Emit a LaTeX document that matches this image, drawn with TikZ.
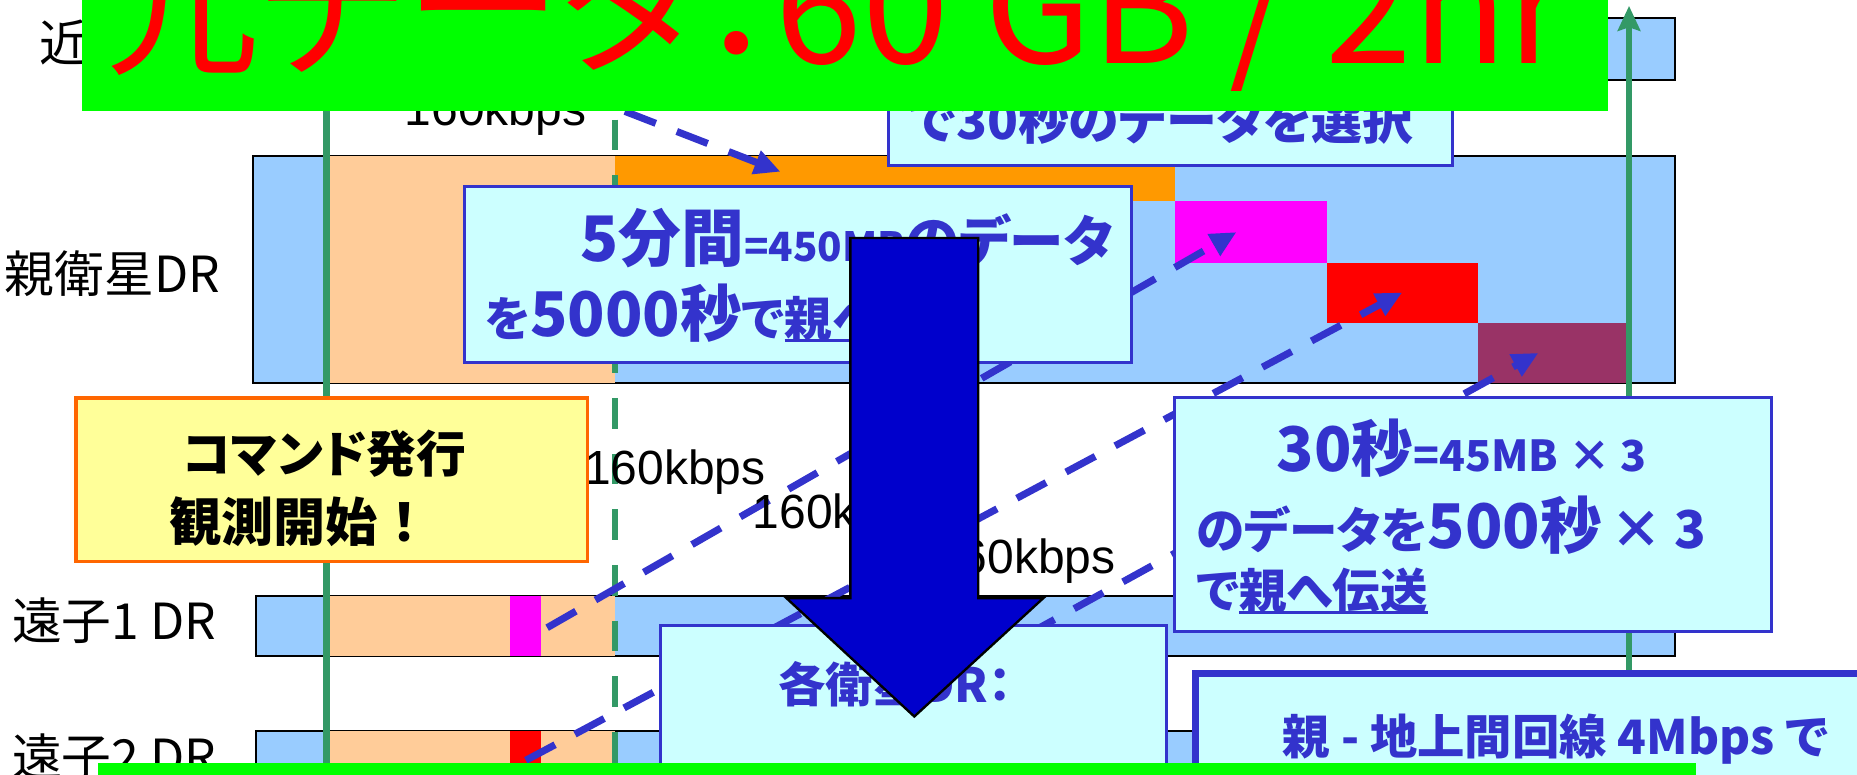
\documentclass[tikz,border=0pt]{standalone}
\usepackage{fontspec}
\setmainfont{Liberation Sans}
\newfontfamily\jp[RawFeature=+palt]{Noto Sans CJK JP}
\newfontfamily\jpf{Noto Sans CJK JP}
\usetikzlibrary{arrows.meta}
\definecolor{lblue}{HTML}{99CCFF}
\definecolor{peach}{HTML}{FFCC99}
\definecolor{orng}{HTML}{FF9900}
\definecolor{mag}{HTML}{FF00FF}
\definecolor{maroon}{HTML}{993366}
\definecolor{cyanbox}{HTML}{CCFFFF}
\definecolor{tblue}{HTML}{3333CC}
\definecolor{darrow}{HTML}{0000CC}
\definecolor{ylw}{HTML}{FFFF99}
\definecolor{ylwb}{HTML}{FF6600}
\definecolor{grn}{HTML}{339966}
\definecolor{lime}{HTML}{00FF00}
\newcommand{\fs}[1]{\fontsize{#1}{#1}\selectfont}
\newcommand{\ulbox}[1]{\setbox0\hbox{#1}\rlap{\rule[-4.5pt]{\wd0}{2.5pt}}\box0}
\tikzset{
  bar/.style={draw=black, line width=1.5pt, fill=lblue},
  box/.style={draw=tblue, line width=2.5pt, fill=cyanbox},
  xfer/.style={draw=tblue, line width=6pt, dash pattern=on 28pt off 19pt, -{Triangle[length=22pt,width=20pt]}},
  btxt/.style={anchor=base west, inner sep=0pt, text=tblue, font=\jp\bfseries},
  ktxt/.style={anchor=base west, inner sep=0pt, text=black, font=\fs{40.5}},
  rowlbl/.style={anchor=base west, inner sep=0pt, text=black, font=\jpf\fs{42}},
}
\begin{document}
\begin{tikzpicture}[x=1pt,y=-1pt]
\useasboundingbox (0,0) rectangle (1568,654);
% ---------- bars ----------
\draw[bar] (215,15.5) rectangle (1414,67.5);
\draw[bar] (213.5,132) rectangle (1414,323.5);
\fill[peach] (276,132) rectangle (519,323.5);
\fill[orng] (519,132) rectangle (992,170);
\fill[mag] (992,170) rectangle (1120.5,222);
\fill[red] (1120.5,222) rectangle (1248,272.5);
\fill[maroon] (1248,272.5) rectangle (1373,323.5);
\draw[bar] (216,503) rectangle (1414,554);
\fill[peach] (276,503) rectangle (519,554);
\fill[mag] (431,503) rectangle (457,554);
\draw[bar] (216,617) rectangle (1414,690);
\fill[peach] (276,617) rectangle (519,690);
\fill[red] (431,617) rectangle (457,690);
% ---------- time lines ----------
\coordinate (gs0) at (276,0);   \coordinate (gs1) at (276,660);
\coordinate (gd0) at (519.5,7); \coordinate (gd1) at (519.5,660);
\coordinate (ga0) at (1375.5,660); \coordinate (ga1) at (1375.5,5);
\draw[grn, line width=6pt] (gs0) -- (gs1);
\draw[grn, line width=5pt, dash pattern=on 26pt off 21pt] (gd0) -- (gd1);
\draw[grn, line width=5.5pt, -{Stealth[length=21pt,width=19pt,inset=3pt]}] (ga0) -- (ga1);
% ---------- transfers ----------
\coordinate (a0) at (440,60);  \coordinate (a1) at (659,145);
\coordinate (b0) at (462,530); \coordinate (b1) at (1044,196);
\coordinate (c0) at (444,642); \coordinate (c1) at (1184,247);
\coordinate (d0) at (660,650); \coordinate (d1) at (1299,298);
\draw[xfer] (a0) -- (a1);
\draw[xfer] (b0) -- (b1);
\draw[xfer] (c0) -- (c1);
\draw[xfer] (d0) -- (d1);
% ---------- rate labels ----------
\node[ktxt] (k1) at (341.5,105.6) {160kbps};
\node[ktxt] (k2) at (493,409.5) {160kbps};
\node[ktxt] (k3) at (635.5,446) {160kbps};
\node[ktxt, anchor=base east] (k4) at (942,484) {160kbps};
% ---------- row labels ----------
\node[rowlbl] (r0) at (33,52) {近};
\node[rowlbl] (r1) at (4,247) {親衛星DR};
\node[rowlbl] (r2) at (10,540) {遠子1 DR};
\node[rowlbl] (r3) at (10,655) {遠子2 DR};
% ---------- boxes ----------
\draw[box] (750,40) rectangle (1226.5,140);
\node[btxt] (t0) at (768,118) {\fs{43}で30秒のデータを選択};
\draw[box] (392,157.5) rectangle (955,306);
\node[btxt] (t1) at (490,221) {\fs{53}5分間\fs{34}=450MB\fs{46}のデータ};
\node[btxt] (t2) at (409,284) {\fs{40}を\fs{52}5000秒\fs{40}で\ulbox{親へ伝送}};
\draw[draw=ylwb, line width=3pt, fill=ylw] (64,336) rectangle (496,474);
\node[anchor=base west, inner sep=0pt, font=\jp\bfseries] (y1) at (154,399) {\fs{42}コマンド発行};
\node[anchor=base west, inner sep=0pt, font=\jpf\bfseries] (y2) at (143,457) {\fs{44}観測開始！};
\draw[box] (992,336) rectangle (1495.5,533);
\node[btxt] (t3) at (1078,398) {\fs{52}30秒\fs{36}=45MB × 3};
\node[btxt] (t4) at (1010,463) {\fs{41}のデータを\fs{52}500秒\fs{44}\,× 3};
\node[btxt] (t5) at (1010,514) {\fs{40}で\ulbox{親へ伝送}};
\draw[box] (558,528) rectangle (985,700);
\node[btxt] (t6) at (657,593) {\fs{40}各衛星DR：};
\draw[box, line width=6pt] (1009.5,569) rectangle (1620,700);
\node[btxt] (t7) at (1083,637) {\fs{40}親 - 地上間回線 4Mbps で};
% ---------- big arrow ----------
\draw[draw=black, line width=2pt, fill=darrow, line join=miter]
  (718,201) -- (826,201) -- (826,505) -- (881,505) -- (772,605) -- (664,505) -- (718,505) -- cycle;
% ---------- banners ----------
\fill[lime] (69,-10) rectangle (1358,93.5);
\node[anchor=base, inner sep=0pt, text=red, font=\jp] (bt) at (706,53.5) {\fs{132}元データ：60 GB / 2hr};
\fill[lime] (83,644) rectangle (1432,670);
\end{tikzpicture}
\end{document}
